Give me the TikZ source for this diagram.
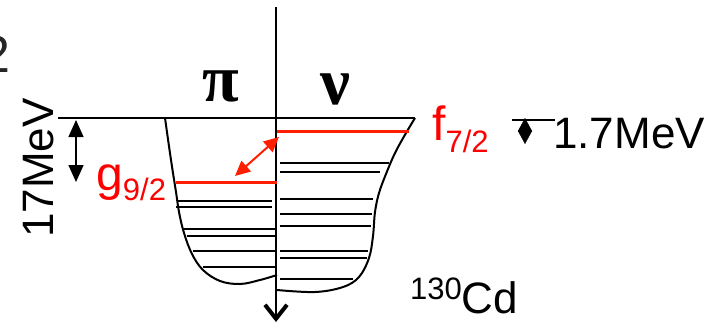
\documentclass[tikz,border=0pt]{standalone}
\usepackage{fontspec}
\setmainfont{Liberation Sans}
\newfontfamily\greekfont{Liberation Serif}
\usepackage{tikz}
\usetikzlibrary{arrows.meta,positioning}
\definecolor{levred}{RGB}{255,30,0}

\begin{document}
\begin{tikzpicture}[
  x=1pt,y=-1pt,
  level/.style={line width=2pt},
  redlevel/.style={line width=3pt,draw=levred},
  well/.style={line width=2pt},
  axis/.style={line width=2pt,-{Straight Barb[length=14pt,width=22pt,line width=4pt]}},
  gap/.style={line width=1.5pt,{Triangle[length=17pt,width=15pt]}-{Triangle[length=17pt,width=15pt]}},
  trans/.style={line width=2pt,levred,{Triangle[length=15pt,width=14pt]}-{Triangle[length=15pt,width=14pt]}},
  tiny/.style={{Triangle[length=13pt,width=14pt]}-{Triangle[length=13pt,width=14pt]}},
  lab/.style={inner sep=0pt,font=\fontsize{44}{44}\selectfont},
  redlab/.style={inner sep=0pt,text=red,font=\fontsize{48}{48}\selectfont},
  greek/.style={inner sep=0pt,font=\fontsize{67}{67}\selectfont\greekfont\bfseries},
]
\useasboundingbox (0,0) rectangle (723,325);
\clip (0,0) rectangle (723,325);

% cropped digit at the edge
\node[lab,anchor=east,text=black!85,font=\fontsize{52}{52}\selectfont] (edge) at (11,54) {2};

% axis and top of the well
\coordinate (axtop) at (276,7);
\coordinate (axbot) at (276,322);
\draw[axis] (axtop) -- (axbot);
\draw[line width=2pt] (58,118) -- (415,118);

% proton side
\draw[well] plot[smooth,tension=0.6] coordinates {(165,118) (171,160) (176,192) (179,212) (184,233) (192,254) (203,270) (220,281) (240,284) (260,280) (277,275)};
\draw[redlevel] (176,182) -- (277,182);
\foreach \y/\xa/\xb in {201/178/272, 207/176/272, 229/183/276, 236/187/276, 251/193/276, 267/203/276}
  \draw[level] (\xa,\y) -- (\xb,\y);

% neutron side
\draw[well] plot[smooth,tension=0.6] coordinates {(415,118) (406,133) (395,153) (386,174) (379,193) (375,212) (373,236) (369,258) (359,277) (343,287) (315,292) (277,290)};
\draw[redlevel] (277,131) -- (409,131);
\foreach \y/\xb in {163/389, 172/380, 199/373, 214/372, 226/371, 251/368, 258/367, 279/353}
  \draw[level] (280,\y) -- (\xb,\y);

% labels
\node[greek,anchor=base] (pi) at (221,101) {π};
\node[greek,anchor=base] (nu) at (335,104) {ν};
\node[redlab,anchor=base west] (g92) at (96,190) {g\raisebox{-10pt}{\fontsize{31}{31}\selectfont 9/2}};
\node[redlab,anchor=base west] (f72) at (432,140) {f\raisebox{-12pt}{\fontsize{31}{31}\selectfont 7/2}};
\node[lab,rotate=90] (depth) at (39,168) {17MeV};
\node[lab,anchor=base west] (sep) at (553,148) {1.7MeV};
\node[lab,anchor=base west] (nucl) at (410,313) {\raisebox{14pt}{\fontsize{31}{31}\selectfont 130}Cd};

% arrows
\coordinate (dtop) at (76,120);
\coordinate (dbot) at (76,182);
\draw[gap] (dtop) -- (dbot);
\coordinate (glev) at (235,176);
\coordinate (flev) at (279,137);
\draw[trans] (glev) -- (flev);
\coordinate (mtop) at (525,118);
\coordinate (mbot) at (525,144);
\draw[line width=2pt] (512,120) -- (555,120);
\draw[tiny] (mtop) -- (mbot);
\end{tikzpicture}
\end{document}
